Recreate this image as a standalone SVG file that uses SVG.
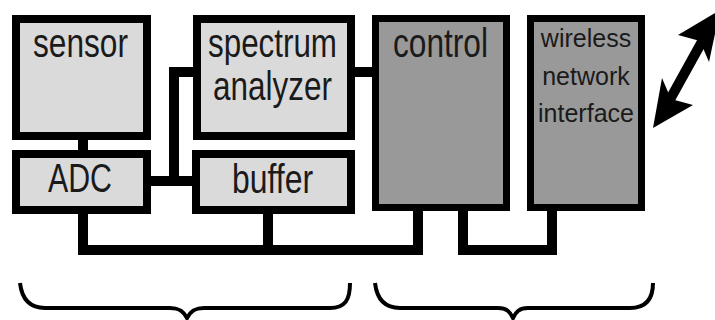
<svg xmlns="http://www.w3.org/2000/svg" width="715" height="320" viewBox="0 0 715 320">
<style>
.light{fill:#dadada;stroke:#000;stroke-width:8}
.dark{fill:#999999;stroke:#000;stroke-width:7}
.t{font-family:"Liberation Sans",Arial,sans-serif;font-size:40px;fill:#1a1a1a;text-anchor:middle}
.s{font-family:"Liberation Sans",Arial,sans-serif;font-size:25px;fill:#1a1a1a;text-anchor:middle}
.w{fill:none;stroke:#000;stroke-width:10}
.b{fill:none;stroke:#000;stroke-width:4}
</style>
<rect width="715" height="320" fill="#fff"/>
<g id="connectors">
<path class="w" d="M83,140 V150"/>
<path class="w" d="M151,181 H192"/>
<path class="w" d="M174,186 V72 H193"/>
<path class="w" d="M355,72 H372"/>
<path class="w" stroke-width="11" d="M83,214 V250 H418 V211"/>
<path class="w" d="M268,214 V250"/>
<path class="w" stroke-width="11" d="M463,211 V250 H552 V211"/>
<path class="w" d="M668,103 L704,38"/>
<polygon points="653,128 662,78 671,99 693,105" fill="#000"/>
<polygon points="720,10 709,62 700,41 678,35" fill="#000"/>
</g>
<g id="sensor"><rect class="light" x="16" y="19" width="131" height="117"/><text class="t" x="80.5" y="57" textLength="95" lengthAdjust="spacingAndGlyphs">sensor</text></g>
<g id="spectrum-analyzer"><rect class="light" x="197" y="19" width="154" height="117"/><text class="t" x="272.5" y="57" textLength="129" lengthAdjust="spacingAndGlyphs">spectrum</text><text class="t" x="272.5" y="100" textLength="119" lengthAdjust="spacingAndGlyphs">analyzer</text></g>
<g id="adc"><rect class="light" x="16" y="154" width="131" height="56"/><text class="t" x="80" y="192" textLength="64" lengthAdjust="spacingAndGlyphs">ADC</text></g>
<g id="buffer"><rect class="light" x="196" y="154" width="155" height="56"/><text class="t" x="272.5" y="193" textLength="81" lengthAdjust="spacingAndGlyphs">buffer</text></g>
<g id="control"><rect class="dark" x="375.5" y="18.5" width="131" height="189"/><text class="t" x="440.5" y="57" textLength="95" lengthAdjust="spacingAndGlyphs">control</text></g>
<g id="wireless"><rect class="dark" x="530.5" y="18.5" width="111" height="189"/><text class="s" x="586" y="47">wireless</text><text class="s" x="586" y="85">network</text><text class="s" x="586" y="122">interface</text></g>
<g id="braces">
<path class="b" d="M20,283 C22,300 30,308 45,308 H170 C180,308 184,312 187,318 C190,312 194,308 204,308 H330 C345,308 350,300 350,283"/>
<path class="b" d="M375,283 C377,300 385,308 400,308 H498 C507,308 510,312 513,318 C516,312 519,308 528,308 H630 C645,308 653,300 653,283"/>
</g>
</svg>
